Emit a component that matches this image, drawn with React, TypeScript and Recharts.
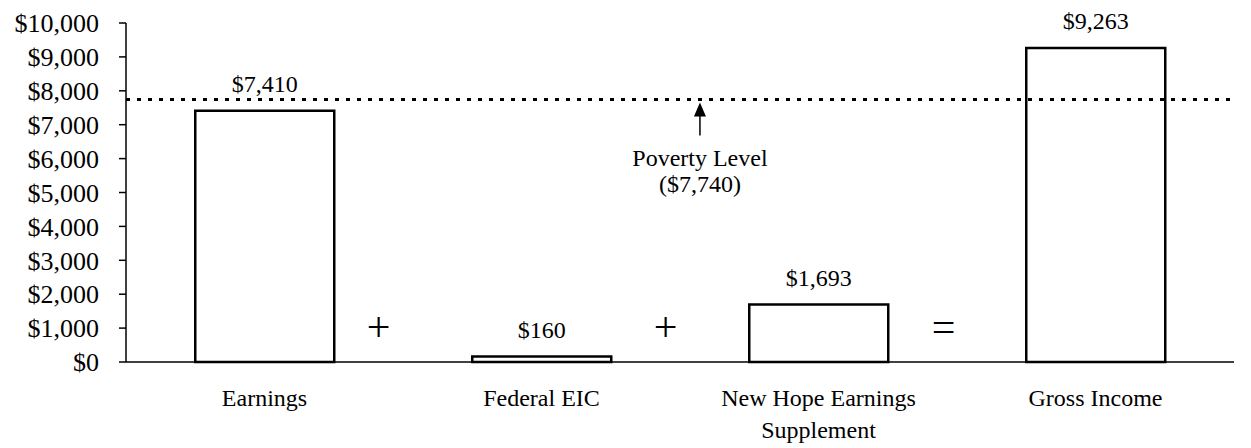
import { BarChart, Bar, XAxis, YAxis, ReferenceLine, ReferenceDot, LabelList } from 'recharts';

const categories = ['Earnings', 'Federal EIC', 'New Hope Earnings Supplement', 'Gross Income'];
const amounts = [7410, 160, 1693, 9263];
const tickLines = [['Earnings'], ['Federal EIC'], ['New Hope Earnings', 'Supplement'], ['Gross Income']];
const operators = ['+', '+', '='];
const operatorShift = [114, 124, 125];
const operatorLevel = 1050;
const yTicks = [0, 1000, 2000, 3000, 4000, 5000, 6000, 7000, 8000, 9000, 10000];
const povertyLevel = 7740;

const FONT = '"Liberation Serif", "Times New Roman", serif';

const money = (v: number) => '$' + v.toLocaleString('en-US');

const data = categories.map((name, i) => ({ name, amount: amounts[i] }));

function XTick({ x, y, payload }: any) {
  const idx = categories.indexOf(payload.value);
  const lines = tickLines[idx] || [payload.value];
  return (
    <text x={x} y={y} textAnchor="middle" fontFamily={FONT} fontSize={24} fill="#000">
      {lines.map((l, i) => (
        <tspan key={i} x={x} dy={i === 0 ? 44 : 32}>
          {l}
        </tspan>
      ))}
    </text>
  );
}

function PovertyNote({ viewBox }: any) {
  const ax = viewBox.x + viewBox.width * 0.518;
  const ay = viewBox.y;
  return (
    <g>
      <line x1={ax} y1={ay + 12} x2={ax} y2={ay + 36} stroke="#000" strokeWidth={1.5} />
      <polygon points={`${ax},${ay + 3} ${ax - 6},${ay + 17} ${ax + 6},${ay + 17}`} fill="#000" />
      <text x={ax} y={ay + 66} textAnchor="middle" fontFamily={FONT} fontSize={24} fill="#000">
        Poverty Level
      </text>
      <text x={ax} y={ay + 92} textAnchor="middle" fontFamily={FONT} fontSize={24} fill="#000">
        ($7,740)
      </text>
    </g>
  );
}

export default function App() {
  return (
    <div style={{ width: 1235, height: 440 }}>
      <BarChart
        width={1235}
        height={440}
        data={data}
        margin={{ top: 15, right: 9, left: 0, bottom: 26 }}
        barCategoryGap="25%"
      >
        <XAxis
          dataKey="name"
          axisLine={{ stroke: '#000', strokeWidth: 1.5 }}
          tickLine={false}
          tickSize={0}
          tickMargin={0}
          height={60}
          interval={0}
          tick={<XTick />}
        />
        <YAxis
          width={118}
          domain={[0, 10000]}
          ticks={yTicks}
          interval={0}
          tickFormatter={money}
          axisLine={{ stroke: '#000', strokeWidth: 1.5 }}
          tickLine={{ stroke: '#000', strokeWidth: 1.5 }}
          tickSize={7}
          tickMargin={20}
          tick={{ fill: '#000', fontFamily: FONT, fontSize: 26 }}
        />
        <Bar dataKey="amount" fill="#fff" stroke="#000" strokeWidth={2.5} isAnimationActive={false}>
          <LabelList
            dataKey="amount"
            position="top"
            offset={19}
            formatter={(v: any) => money(Number(v))}
            style={{ fill: '#000', fontFamily: FONT, fontSize: 24 }}
          />
        </Bar>
        <ReferenceLine
          y={povertyLevel}
          stroke="#000"
          strokeWidth={3}
          strokeDasharray="4 7"
          label={<PovertyNote />}
        />
        {operators.map((op, i) => (
          <ReferenceDot
            key={i}
            x={categories[i]}
            y={operatorLevel}
            r={0}
            stroke="none"
            fill="none"
            label={(p: any) => (
              <text
                x={p.viewBox.x + p.viewBox.width / 2 + operatorShift[i]}
                y={p.viewBox.y + p.viewBox.height / 2}
                dy="0.35em"
                textAnchor="middle"
                fontFamily={FONT}
                fontSize={42}
                fill="#000"
              >
                {op}
              </text>
            )}
          />
        ))}
      </BarChart>
    </div>
  );
}
